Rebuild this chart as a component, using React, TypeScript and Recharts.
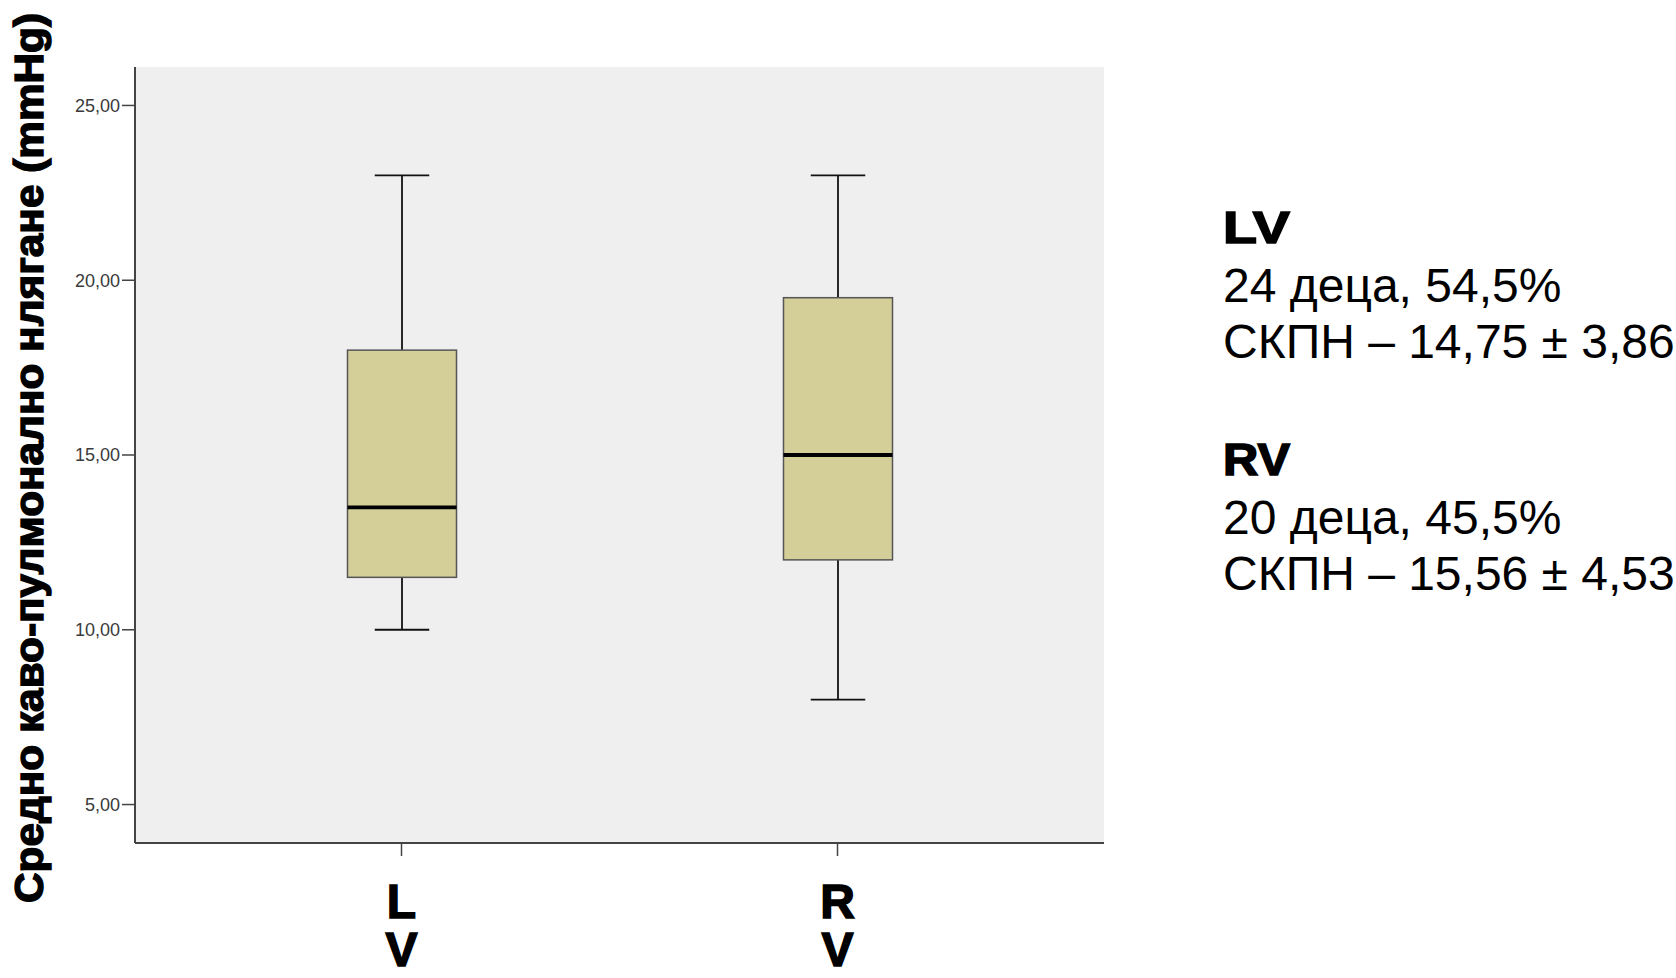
import React from 'react';
import { ComposedChart, Bar, XAxis, YAxis, CartesianGrid } from 'recharts';

const GROUPS = ['LV', 'RV'];
const MINS = [10, 8];
const Q1S = [11.5, 12];
const MEDIANS = [13.5, 15];
const Q3S = [18, 19.5];
const MAXS = [23, 23];
const Y_TICKS = [5, 10, 15, 20, 25];
const Y_DOMAIN = [3.9, 26.1];

const Y_TITLE = 'Средно каво-пулмонално нлягане (mmHg)';
const NOTE_HEADS = ['LV', 'RV'];
const NOTE_COUNTS = ['24 деца, 54,5%', '20 деца, 45,5%'];
const NOTE_STATS = ['СКПН – 14,75 ± 3,86', 'СКПН – 15,56 ± 4,53'];

const FONT = '"Liberation Sans", Arial, sans-serif';

const data = GROUPS.map((name, i) => ({
  name,
  min: MINS[i],
  q1: Q1S[i],
  median: MEDIANS[i],
  q3: Q3S[i],
  max: MAXS[i],
  box: [Q1S[i], Q3S[i]],
}));

// box + whiskers, scaled from the bar's own pixel height
const BoxShape = (props: any) => {
  const { x, y, width, height, payload } = props;
  const top = Math.min(y, y + height);
  const h = Math.abs(height);
  const ppu = h / (payload.q3 - payload.q1);
  const yOf = (v: number) => top + (payload.q3 - v) * ppu;
  const cx = x + width / 2;
  const cap = width / 4;
  return (
    <g>
      <line x1={cx} x2={cx} y1={yOf(payload.max)} y2={top} stroke="#111" strokeWidth={1.8} />
      <line x1={cx} x2={cx} y1={top + h} y2={yOf(payload.min)} stroke="#111" strokeWidth={1.8} />
      <line x1={cx - cap} x2={cx + cap} y1={yOf(payload.max)} y2={yOf(payload.max)} stroke="#111" strokeWidth={1.8} />
      <line x1={cx - cap} x2={cx + cap} y1={yOf(payload.min)} y2={yOf(payload.min)} stroke="#111" strokeWidth={1.8} />
      <rect x={x} y={top} width={width} height={h} fill="#d4cf98" stroke="#555" strokeWidth={1.5} />
      <line x1={x} x2={x + width} y1={yOf(payload.median)} y2={yOf(payload.median)} stroke="#000" strokeWidth={3.8} />
    </g>
  );
};

const GroupTick = (props: any) => {
  const { x, y, payload } = props;
  const chars = String(payload.value).split('');
  return (
    <text x={x} y={y} textAnchor="middle" fontFamily={FONT} fontWeight={700} fontSize={48} fill="#000" stroke="#000" strokeWidth={1.5}>
      {chars.map((c, i) => (
        <tspan key={i} x={x} y={y + 60 + i * 48}>
          {c}
        </tspan>
      ))}
    </text>
  );
};

const fmt = (v: number) => v.toFixed(2).replace('.', ',');

export default function App() {
  return (
    <div style={{ position: 'absolute', left: 0, top: 0, width: 1676, height: 978, background: '#fff' }}>
      <ComposedChart
        width={1676}
        height={978}
        data={data}
        margin={{ top: 67, right: 572, bottom: 35, left: 0 }}
        style={{ fontFamily: FONT }}
      >
        <CartesianGrid fill="#efefef" horizontal={false} vertical={false} />
        <XAxis
          dataKey="name"
          padding={{ left: 48.5, right: 48.5 }}
          height={100}
          tickSize={13}
          axisLine={{ stroke: '#444', strokeWidth: 2 }}
          tickLine={{ stroke: '#444', strokeWidth: 1.5 }}
          tick={<GroupTick />}
          interval={0}
        />
        <XAxis xAxisId="top" orientation="top" height={0} tick={false} tickLine={false} axisLine={{ stroke: '#444', strokeWidth: 2 }} />
        <YAxis
          type="number"
          domain={Y_DOMAIN}
          ticks={Y_TICKS}
          allowDataOverflow
          width={135}
          tickSize={13}
          tickFormatter={fmt}
          tick={{ fill: '#3a3a3a', fontSize: 18, fontFamily: FONT }}
          axisLine={{ stroke: '#444', strokeWidth: 2 }}
          tickLine={{ stroke: '#444', strokeWidth: 1.5 }}
        />
        <YAxis yAxisId="right" orientation="right" width={0} tick={false} tickLine={false} axisLine={{ stroke: '#444', strokeWidth: 2 }} />
        <Bar dataKey="box" barSize={109} shape={<BoxShape />} isAnimationActive={false} />
      </ComposedChart>
      <svg width={1676} height={978} style={{ position: 'absolute', left: 0, top: 0, pointerEvents: 'none' }}>
        <text
          transform="translate(43,458) rotate(-90)"
          textAnchor="middle"
          fontFamily={FONT}
          fontWeight={700}
          fontSize={40}
          fill="#000"
          stroke="#000"
          strokeWidth={1.4}
          textLength={890}
          lengthAdjust="spacingAndGlyphs"
        >
          {Y_TITLE}
        </text>
        {NOTE_HEADS.map((head, i) => {
          const base = 243 + i * 232;
          return (
            <g key={head}>
              <text x={1223} y={base} fontFamily={FONT} fontWeight={700} fontSize={44} fill="#000" stroke="#000" strokeWidth={1.5} textLength={67} lengthAdjust="spacingAndGlyphs">
                {head}
              </text>
              <text x={1223} y={base + 59} fontFamily={FONT} fontSize={48} fill="#000">
                {NOTE_COUNTS[i]}
              </text>
              <text x={1223} y={base + 115} fontFamily={FONT} fontSize={48} fill="#000">
                {NOTE_STATS[i]}
              </text>
            </g>
          );
        })}
      </svg>
    </div>
  );
}
